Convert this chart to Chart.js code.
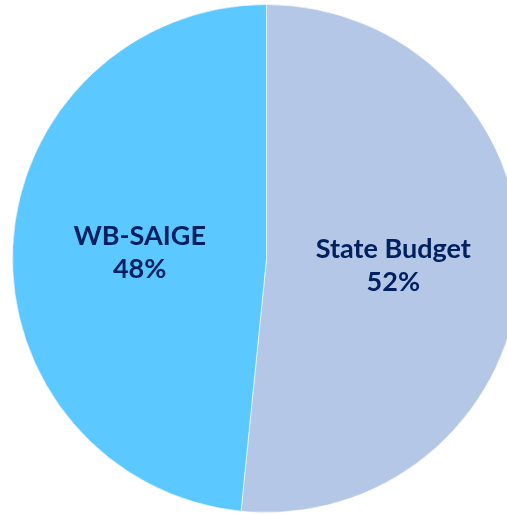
<!DOCTYPE html>
<html>
<head>
<meta charset="utf-8">
<script src="https://cdn.jsdelivr.net/npm/chart.js@4"></script>
<style>
  html, body { margin: 0; padding: 0; background: #fff; overflow: hidden; }
  #wrap { width: 507px; height: 514px; overflow: hidden; position: relative; }
  canvas { position: absolute; left: 0; top: 0; }
</style>
</head>
<body>
<div id="wrap"><canvas id="pieChart" width="533" height="514"></canvas></div>
<script>
var categories = ['State Budget', 'WB-SAIGE'];
var shares = [51.6, 48.4];
var sliceColors = ['#B4C7E7', '#5BC8FF'];

// draws "name / pct%" in the middle of each slice
var sliceLabels = {
    id: 'sliceLabels',
    afterDatasetsDraw: function (chart) {
        var ctx = chart.ctx;
        var meta = chart.getDatasetMeta(0);
        ctx.save();
        ctx.fillStyle = '#002060';
        ctx.font = 'bold 27px Lato';
        ctx.textAlign = 'center';
        ctx.textBaseline = 'middle';
        meta.data.forEach(function (arc, i) {
            var p = arc.tooltipPosition();
            ctx.fillText(categories[i], p.x, p.y - 16);
            ctx.fillText(Math.round(shares[i]) + '%', p.x, p.y + 17);
        });
        ctx.restore();
    }
};

var ctxPie = document.getElementById('pieChart').getContext('2d');
new Chart(ctxPie, {
    type: 'pie',
    data: {
        labels: categories,
        datasets: [{
            data: shares,
            backgroundColor: sliceColors,
            borderColor: 'rgba(255,255,255,0.6)',
            borderWidth: 1
        }]
    },
    options: {
        responsive: false,
        animation: false,
        layout: { padding: { top: 4, bottom: 1, left: 0, right: 0 } },
        plugins: {
            legend: { display: false },
            tooltip: { enabled: false }
        }
    },
    plugins: [sliceLabels]
});
</script>
</body>
</html>
